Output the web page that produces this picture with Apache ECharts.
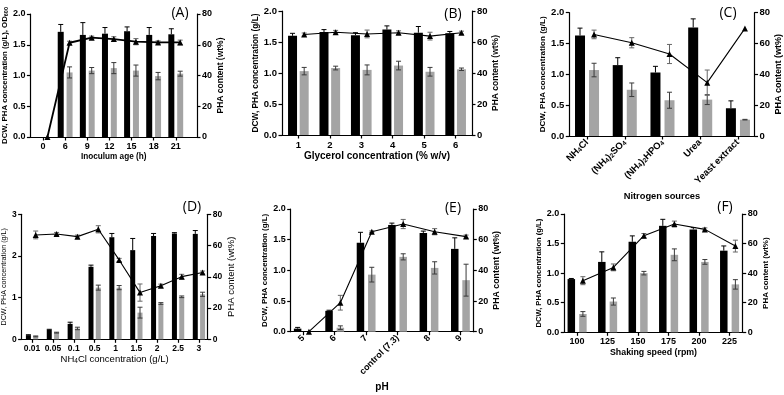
<!DOCTYPE html>
<html>
<head>
<meta charset="utf-8">
<script src="https://cdn.jsdelivr.net/npm/echarts@6/dist/echarts.min.js"></script>
<style>
  html, body { margin: 0; padding: 0; background: #fff; }
  #chart { width: 784px; height: 395px; }
</style>
</head>
<body>
<div id="chart"></div>
<script>
// (A) inoculum age
const catsA = ['0', '6', '9', '12', '15', '18', '21'];
const dcwA = [null, 1.71, 1.66, 1.68, 1.72, 1.66, 1.67];
const dcwErrA = [null, 0.12, 0.2, 0.10, 0.07, 0.12, 0.09];
const phaA = [null, 1.05, 1.08, 1.12, 1.08, 0.99, 1.03];
const phaErrA = [null, 0.09, 0.05, 0.09, 0.09, 0.06, 0.04];
const contentA = [0, 61.3, 64.6, 63.7, 62, 61.5, 61.5];
const contentErrA = [0, 1, 1, 1.5, 2, 1, 1.5];

// (B) glycerol
const catsB = ['1', '2', '3', '4', '5', '6'];
const dcwB = [1.60, 1.66, 1.61, 1.70, 1.65, 1.64];
const dcwErrB = [0.04, 0.04, 0.04, 0.06, 0.1, 0.03];
const phaB = [1.03, 1.08, 1.05, 1.12, 1.02, 1.06];
const phaErrB = [0.06, 0.03, 0.08, 0.07, 0.07, 0.02];
const contentB = [64.8, 66.3, 65.2, 66, 63.8, 66];
const contentErrB = [1, 1.2, 2.5, 1.2, 2.5, 1];

// (C) nitrogen sources
const catsC = ['NH{s|4}Cl', '(NH{s|4}){s|2}SO{s|4}', '(NH{s|4}){s|2}HPO{s|4}', 'Urea', 'Yeast extract'];
const dcwC = [1.63, 1.15, 1.03, 1.76, 0.45];
const dcwErrC = [0.12, 0.12, 0.1, 0.14, 0.12];
const phaC = [1.07, 0.75, 0.58, 0.59, 0.265];
const phaErrC = [0.11, 0.11, 0.13, 0.08, 0.005];
const contentC = [65.9, 60.5, 53.2, 34.6, 69.8];
const contentErrC = [2.8, 3.3, 6.2, 8.2, 0];

// (D) NH4Cl concentration
const catsD = ['0.01', '0.05', '0.1', '0.5', '1', '1.5', '2', '2.5', '3'];
const dcwD = [0.1, 0.23, 0.37, 1.74, 2.45, 2.14, 2.48, 2.54, 2.53];
const dcwErrD = [0.01, 0.01, 0.04, 0.04, 0.09, 0.28, 0.06, 0.02, 0.08];
const phaD = [0.07, 0.16, 0.26, 1.24, 1.24, 0.64, 0.86, 1.02, 1.08];
const phaErrD = [0.01, 0.01, 0.03, 0.06, 0.05, 0.13, 0.02, 0.02, 0.05];
const contentD = [66.8, 67.4, 65.7, 70.4, 50.8, 29.9, 34.3, 40.1, 42.7];
const contentErrD = [2.5, 1, 1, 2.3, 1, 5.5, 1, 1.5, 1];

// (E) pH
const catsE = ['5', '6', '7', 'control (7.3)', '8', '9'];
const dcwE = [0.05, 0.34, 1.45, 1.74, 1.61, 1.35];
const dcwErrE = [0.02, 0.01, 0.17, 0.03, 0.03, 0.18];
const phaE = [0, 0.065, 0.93, 1.22, 1.04, 0.84];
const phaErrE = [0, 0.03, 0.12, 0.05, 0.1, 0.26];
const contentE = [0, 18.9, 65.2, 70.2, 65.2, 62];
const contentErrE = [0, 4.8, 0.5, 3, 2, 1];

// (F) shaking speed
const catsF = ['100', '125', '150', '175', '200', '225'];
const dcwF = [0.90, 1.19, 1.53, 1.80, 1.74, 1.38];
const dcwErrF = [0.01, 0.17, 0.1, 0.11, 0.03, 0.08];
const phaF = [0.31, 0.52, 1.00, 1.31, 1.19, 0.81];
const phaErrF = [0.04, 0.06, 0.03, 0.1, 0.04, 0.08];
const contentF = [34.9, 43.9, 65.3, 73.2, 69.6, 58.3];
const contentErrF = [2.7, 2.3, 1.5, 2, 1, 4];

const leftTitle = 'DCW, PHA concentration (g/L)';
const rightTitle = 'PHA content (wt%)';

const FONT = "'Liberation Sans', Arial, sans-serif";

const panels = [
  { tag: '(A)', cats: catsA, dcw: dcwA, dcwErr: dcwErrA, pha: phaA, phaErr: phaErrA, content: contentA, contentErr: contentErrA,
    xName: 'Inoculum age (h)', yName: leftTitle + ', OD{s|600}',
    left: 29, top: 14, w: 168, h: 123, xMin: -0.57, xMax: 6.96, off: 0.2, barW: 6, yMax: 2, yInt: 0.5,
    xGap: 16, lGap: 19, rGap: 13.5, lSize: 7.8, rSize: 8.5, xSize: 8.2, tSize: 9, tagX: 180, tagY: 13 },
  { tag: '(B)', cats: catsB, dcw: dcwB, dcwErr: dcwErrB, pha: phaB, phaErr: phaErrB, content: contentB, contentErr: contentErrB,
    xName: 'Glycerol concentration (% w/v)', yName: leftTitle,
    left: 282, top: 11, w: 190, h: 124, xMin: -0.52, xMax: 5.52, off: 0.185, barW: 9, yMax: 2, yInt: 0.5,
    xGap: 15, lGap: 14.5, rGap: 15, lSize: 8.3, rSize: 8.5, xSize: 10, tSize: 9.5, tagX: 453, tagY: 14 },
  { tag: '(C)', cats: catsC, dcw: dcwC, dcwErr: dcwErrC, pha: phaC, phaErr: phaErrC, content: contentC, contentErr: contentErrC,
    xName: 'Nitrogen sources', yName: leftTitle, rot: 45,
    left: 569.3, top: 12.7, w: 187, h: 123.3, xMin: -0.47, xMax: 4.44, off: 0.186, barW: 10, yMax: 2, yInt: 0.5,
    xGap: 56, lGap: 19.5, rGap: 17.5, lSize: 8.1, rSize: 9, xSize: 9.3, tSize: 9.5, tagX: 728, tagY: 13 },
  { tag: '(D)', cats: catsD, dcw: dcwD, dcwErr: dcwErrD, pha: phaD, phaErr: phaErrD, content: contentD, contentErr: contentErrD,
    xName: 'NH{s|4}Cl concentration (g/L)', yName: leftTitle, regular: true,
    left: 20.7, top: 214.3, w: 187, h: 125, xMin: -0.5, xMax: 8.42, off: 0.175, barW: 5, yMax: 3, yInt: 1,
    xGap: 15, lGap: 10, rGap: 19, lSize: 7.2, rSize: 9.5, xSize: 9.5, tSize: 8.5, tagX: 192, tagY: 207 },
  { tag: '(E)', cats: catsE, dcw: dcwE, dcwErr: dcwErrE, pha: phaE, phaErr: phaErrE, content: contentE, contentErr: contentErrE,
    xName: 'pH', yName: leftTitle, rot: 45,
    left: 290.7, top: 209, w: 182.6, h: 122.7, xMin: -0.40, xMax: 5.41, off: 0.18, barW: 7.5, yMax: 2, yInt: 0.5,
    xGap: 51, lGap: 21.5, rGap: 19, lSize: 7.9, rSize: 8.8, xSize: 10, tSize: 9, tagX: 453, tagY: 208 },
  { tag: '(F)', cats: catsF, dcw: dcwF, dcwErr: dcwErrF, pha: phaF, phaErr: phaErrF, content: contentF, contentErr: contentErrF,
    xName: 'Shaking speed (rpm)', yName: leftTitle,
    left: 564.3, top: 214, w: 178.4, h: 118.3, xMin: -0.42, xMax: 5.43, off: 0.19, barW: 7.5, yMax: 2, yInt: 0.5,
    xGap: 16, lGap: 20, rGap: 18.5, lSize: 7.6, rSize: 8, xSize: 8.8, tSize: 9, tagX: 725, tagY: 207 }
];

function errRenderer(color, upOnly) {
  return function (params, api) {
    const x = api.value(0), y = api.value(1), e = api.value(2);
    if (!e) return;
    const p1 = api.coord([x, y + e]);
    const p2 = api.coord([x, upOnly ? y : y - e]);
    const cap = 2.5;
    const st = { stroke: color, lineWidth: 1 };
    const kids = [
      { type: 'line', shape: { x1: p1[0], y1: p1[1], x2: p2[0], y2: p2[1] }, style: st },
      { type: 'line', shape: { x1: p1[0] - cap, y1: p1[1], x2: p1[0] + cap, y2: p1[1] }, style: st }
    ];
    if (!upOnly) {
      kids.push({ type: 'line', shape: { x1: p2[0] - cap, y1: p2[1], x2: p2[0] + cap, y2: p2[1] }, style: st });
    }
    return { type: 'group', children: kids };
  };
}

function pts(p, vals, dx) {
  return p.cats.map((c, i) => vals[i] == null ? null : [i + dx, vals[i]]).filter(Boolean);
}
function errPts(p, vals, errs, dx) {
  return p.cats.map((c, i) => vals[i] == null ? null : [i + dx, vals[i], errs[i]]).filter(Boolean);
}

const grid = [], xAxis = [], yAxis = [], series = [], graphic = [];

panels.forEach((p, gi) => {
  const weight = p.regular ? 'normal' : 'bold';
  const idx = p.cats.map((c, i) => i);
  const axLine = { show: true, onZero: false, lineStyle: { color: '#000', width: 1.2 } };
  const tick = { show: true, length: 3.5, lineStyle: { color: '#000', width: 1.2 } };

  grid.push({ left: p.left, top: p.top, width: p.w, height: p.h });

  xAxis.push({
    gridIndex: gi, type: 'value', min: p.xMin, max: p.xMax,
    name: p.xName, nameLocation: 'middle', nameGap: p.xGap,
    nameTextStyle: { fontSize: p.xSize, fontWeight: weight, fontFamily: FONT, color: '#000',
      rich: { s: { fontSize: 6.5, verticalAlign: 'bottom', lineHeight: 9, fontWeight: weight, fontFamily: FONT, color: '#000' } } },
    axisLine: axLine,
    axisTick: Object.assign({ customValues: idx }, tick),
    axisLabel: {
      customValues: idx, rotate: p.rot || 0, margin: 5,
      formatter: v => p.cats[Math.round(v)],
      fontSize: p.tSize, fontWeight: 'bold', fontFamily: FONT, color: '#000',
      rich: { s: { fontSize: 6.5, verticalAlign: 'bottom', lineHeight: 8, fontWeight: 'bold', fontFamily: FONT, color: '#000' } }
    },
    splitLine: { show: false }
  });

  yAxis.push({
    gridIndex: gi, type: 'value', position: 'left', min: 0, max: p.yMax, interval: p.yInt,
    name: p.yName, nameLocation: 'middle', nameGap: p.lGap, nameRotate: 90,
    nameTextStyle: { fontSize: p.lSize, fontWeight: weight, fontFamily: FONT, color: '#000',
      rich: { s: { fontSize: 5.5, verticalAlign: 'bottom', lineHeight: 8, fontWeight: weight, fontFamily: FONT, color: '#000' } } },
    axisLine: axLine, axisTick: tick,
    axisLabel: { margin: 5, fontSize: p.tSize, fontWeight: 'bold', fontFamily: FONT, color: '#000',
      formatter: v => p.yInt < 1 ? v.toFixed(1) : String(v) },
    splitLine: { show: false }
  });
  yAxis.push({
    gridIndex: gi, type: 'value', position: 'right', min: 0, max: 80, interval: 20,
    name: rightTitle, nameLocation: 'middle', nameGap: p.rGap, nameRotate: 90,
    nameTextStyle: { fontSize: p.rSize, fontWeight: weight, fontFamily: FONT, color: '#000' },
    axisLine: axLine, axisTick: tick,
    axisLabel: { margin: 5, fontSize: p.tSize, fontWeight: 'bold', fontFamily: FONT, color: '#000' },
    splitLine: { show: false }
  });

  const yl = gi * 2, yr = gi * 2 + 1;
  series.push({
    type: 'bar', xAxisIndex: gi, yAxisIndex: yl, barWidth: p.barW, barGap: '-100%',
    itemStyle: { color: '#000' }, data: pts(p, p.dcw, -p.off), z: 2
  });
  series.push({
    type: 'bar', xAxisIndex: gi, yAxisIndex: yl, barWidth: p.barW, barGap: '-100%',
    itemStyle: { color: '#a4a4a4' }, data: pts(p, p.pha, p.off), z: 2
  });
  series.push({
    type: 'custom', xAxisIndex: gi, yAxisIndex: yl, renderItem: errRenderer('#000', true),
    data: errPts(p, p.dcw, p.dcwErr, -p.off), z: 3
  });
  series.push({
    type: 'custom', xAxisIndex: gi, yAxisIndex: yl, renderItem: errRenderer('#3a3a3a', false),
    data: errPts(p, p.pha, p.phaErr, p.off), z: 3
  });
  series.push({
    type: 'custom', xAxisIndex: gi, yAxisIndex: yr, renderItem: errRenderer('#666', false),
    data: errPts(p, p.content, p.contentErr, p.off), z: 4
  });
  series.push({
    type: 'line', xAxisIndex: gi, yAxisIndex: yr, data: pts(p, p.content, p.off),
    symbol: 'triangle', symbolSize: 6, showSymbol: true,
    lineStyle: { color: '#000', width: p.tag === '(A)' ? 1.8 : 1.1 }, itemStyle: { color: '#000' },
    z: 5
  });

  graphic.push({
    type: 'text', x: p.tagX, y: p.tagY,
    style: { text: p.tag, fontSize: 14, fontFamily: "'Open Sans', sans-serif", fill: '#000', align: 'center', verticalAlign: 'middle' }
  });
});

const chart = echarts.init(document.getElementById('chart'));
chart.setOption({
  animation: false,
  grid: grid,
  xAxis: xAxis,
  yAxis: yAxis,
  series: series,
  graphic: graphic
});
</script>
</body>
</html>
